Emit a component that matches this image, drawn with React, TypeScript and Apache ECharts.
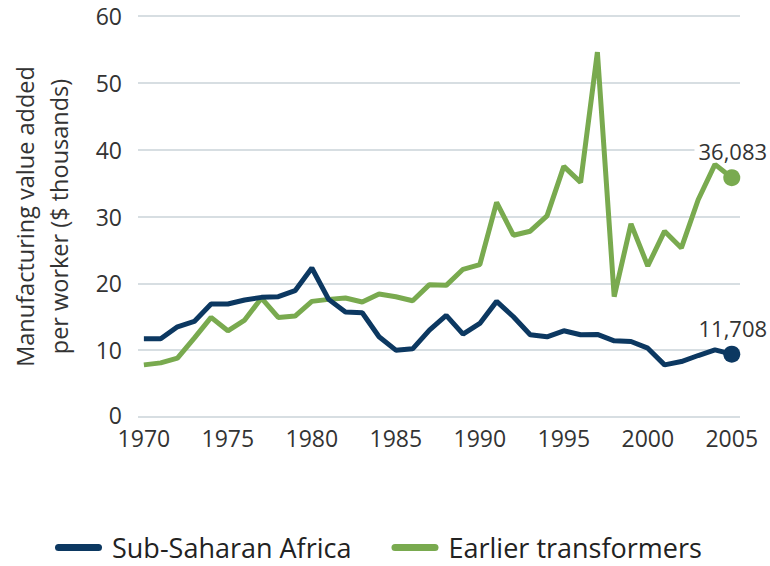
import React, { useEffect, useRef } from "react";
import * as echarts from "echarts";

const years = [
  1970, 1971, 1972, 1973, 1974, 1975, 1976, 1977, 1978, 1979,
  1980, 1981, 1982, 1983, 1984, 1985, 1986, 1987, 1988, 1989,
  1990, 1991, 1992, 1993, 1994, 1995, 1996, 1997, 1998, 1999,
  2000, 2001, 2002, 2003, 2004, 2005,
];

const subSaharanAfrica = [
  11.7, 11.7, 13.5, 14.3, 16.9, 16.9, 17.5, 17.9, 18.0, 18.9,
  22.3, 17.6, 15.7, 15.6, 12.0, 10.0, 10.2, 13.0, 15.2, 12.4,
  14.0, 17.3, 15.0, 12.3, 12.0, 12.9, 12.3, 12.35, 11.4, 11.3,
  10.3, 7.8, 8.3, 9.2, 10.05, 9.4,
];

const earlierTransformers = [
  7.8, 8.1, 8.8, 11.8, 14.9, 12.9, 14.5, 17.8, 14.9, 15.1,
  17.3, 17.6, 17.8, 17.2, 18.4, 18.0, 17.4, 19.8, 19.7, 22.1,
  22.8, 32.1, 27.2, 27.8, 30.1, 37.5, 35.1, 54.6, 18.0, 28.9,
  22.6, 27.8, 25.3, 32.5, 37.8, 35.8,
];

const seriesNames = ["Sub-Saharan Africa", "Earlier transformers"];
const endLabels = ["11,708", "36,083"];
const xTicks = [1970, 1975, 1980, 1985, 1990, 1995, 2000, 2005];

const COLORS = ["#0c3861", "#79aa4f"];
const FONT = "'Open Sans', 'Noto Sans', sans-serif";

function buildData(values: number[], label: string, color: string) {
  return values.map((v, i) => {
    const item: any = { value: [years[i], v] };
    if (i === values.length - 1) {
      item.symbol = "circle";
      item.symbolSize = 17;
      item.itemStyle = { color };
      item.label = {
        show: true,
        position: "top",
        distance: 7,
        formatter: label,
        color: "#333",
        fontSize: 22,
        lineHeight: 22,
        fontFamily: FONT,
        backgroundColor: "#fff",
        padding: [0, 2, 0, 4],
      };
    }
    return item;
  });
}

export default function App() {
  const ref = useRef<HTMLDivElement>(null);
  useEffect(() => {
    if (!ref.current) return;
    const chart = echarts.init(ref.current, null, { renderer: "svg" });
    const capsule =
      "path://M3.5,0 L43.5,0 A3.5,3.5 0 0 1 43.5,7 L3.5,7 A3.5,3.5 0 0 1 3.5,0 Z";
    chart.setOption({
      animation: false,
      backgroundColor: "#fff",
      grid: { left: 130, right: 30, top: 16, bottom: 149, containLabel: false },
      xAxis: {
        type: "value",
        min: 1969.65,
        max: 2005.49,
        axisLine: { show: false },
        axisTick: { show: false },
        splitLine: { show: false },
        axisLabel: {
          customValues: xTicks,
          color: "#333",
          fontSize: 23,
          lineHeight: 18,
          fontFamily: FONT,
          margin: 12,
          formatter: (v: number) => String(v),
        },
      },
      yAxis: {
        type: "value",
        min: 0,
        max: 60,
        interval: 10,
        axisLine: { show: false },
        axisTick: { show: false },
        splitLine: { lineStyle: { color: "#cad3d9", width: 1.6 } },
        axisLabel: {
          color: "#333",
          fontSize: 23,
          lineHeight: 18,
          fontFamily: FONT,
          margin: 16,
          formatter: (v: number) => (v === 0 ? "{z|0}" : String(v)),
          rich: {
            z: {
              color: "#333",
              fontSize: 23,
              lineHeight: 16,
              fontFamily: FONT,
              padding: [0, 0, 5, 0],
            },
          },
        },
        name: "Manufacturing value added\nper worker ($ thousands)",
        nameLocation: "middle",
        nameGap: 62,
        nameTextStyle: {
          color: "#333",
          fontSize: 23.5,
          fontFamily: FONT,
          lineHeight: 34,
        },
      },
      legend: {
        left: 55,
        top: 534,
        padding: 0,
        itemWidth: 47,
        itemHeight: 7,
        itemGap: 40,
        data: seriesNames.map((n, i) => ({ name: n, icon: capsule, itemStyle: { color: COLORS[i] } })),
        textStyle: {
          color: "#222",
          fontSize: 27,
          fontFamily: FONT,
          padding: [0, 0, 0, 5],
        },
      },
      series: [
        {
          name: seriesNames[0],
          type: "line",
          symbol: "none",
          color: COLORS[0],
          lineStyle: { color: COLORS[0], width: 5 },
          data: buildData(subSaharanAfrica, endLabels[0], COLORS[0]),
          z: 3,
        },
        {
          name: seriesNames[1],
          type: "line",
          symbol: "none",
          color: COLORS[1],
          lineStyle: { color: COLORS[1], width: 5 },
          data: buildData(earlierTransformers, endLabels[1], COLORS[1]),
          z: 2,
        },
      ],
    });
    return () => chart.dispose();
  }, []);
  return (
    <div
      ref={ref}
      style={{ position: "fixed", left: 0, top: 0, width: 770, height: 566 }}
    />
  );
}
